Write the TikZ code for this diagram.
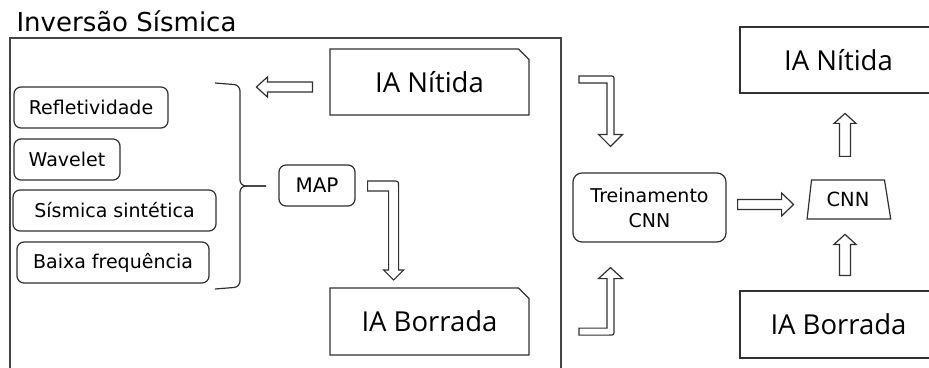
\documentclass[tikz,border=0pt]{standalone}
\usepackage{fontspec}
\setmainfont{DejaVu Sans}
\newfontfamily\iafont{Open Sans}
\usetikzlibrary{shapes.misc,shapes.geometric,calc}
\definecolor{linegray}{HTML}{303030}
\definecolor{framegray}{HTML}{444444}
\tikzstyle{item}=[draw=linegray, line width=1.2pt, rounded corners=7pt, inner sep=0pt, minimum height=41pt, font=\fontsize{19}{25}\selectfont, align=center]
\tikzstyle{card}=[draw=linegray, line width=1.2pt, chamfered rectangle, chamfered rectangle corners=north east, chamfered rectangle xsep=5.5pt, chamfered rectangle ysep=5pt, inner sep=0pt, font=\iafont\fontsize{27.5}{33}\selectfont]
\tikzstyle{plain}=[draw=linegray, line width=1.2pt, inner sep=0pt, font=\iafont\fontsize{27.5}{33}\selectfont]
\tikzstyle{netbox}=[draw=linegray, line width=1.2pt, trapezium, trapezium left angle=80, trapezium right angle=76, trapezium stretches=true, minimum width=84pt, minimum height=39pt, inner sep=0pt, font=\fontsize{19.5}{24}\selectfont]
\tikzstyle{hollow}=[draw=linegray, line width=1.2pt, fill=white, line join=miter]
\tikzstyle{bracket}=[draw=linegray, line width=1.2pt, rounded corners=6pt]

% tail, angle, length, half shaft, half head, head length
\newcommand{\hollowarrow}[6]{%
  \begin{scope}[shift={#1}, rotate=#2]
    \draw[hollow] (0,-#4) -- ({#3-#6},-#4) -- ({#3-#6},-#5) -- (#3,0)
      -- ({#3-#6},#5) -- ({#3-#6},#4) -- (0,#4) -- cycle;
  \end{scope}}

\begin{document}
\begin{tikzpicture}[x=1pt, y=-1pt]
    \useasboundingbox (0,0) rectangle (929,367);
    \clip (0,0) rectangle (929,367);

    % title and frame of the inversion part
    \node[anchor=base west, font=\fontsize{26}{30}\selectfont] (title) at (13,31) {Inversão Sísmica};
    \draw[framegray, line width=2pt] (10,38) rectangle (561,395);

    % First the input boxes
    \foreach \name/\pos/\boxw/\txt in {refl/{(91,107.5)}/154/Refletividade, wave/{(67,159.5)}/106/Wavelet,
        sint/{(114.5,210.5)}/203/{Sísmica sintética}, baixa/{(113,262.5)}/192/{Baixa frequência}}
        \node[item, minimum width=\boxw pt] (\name) at \pos {\txt};

    % the bracket that gathers them
    \coordinate (tip) at (266,186);
    \path[bracket] (215,83) -- (240,85) -- (240,186) -- (tip);
    \path[bracket] (tip) -- (240,186) -- (240,287) -- (215,289);

    \node[item, minimum width=76pt, font=\fontsize{20}{24}\selectfont] (map) at (317,185.5) {MAP};
    \node[card, minimum width=199pt, minimum height=66pt] (nitidaA) at (429.5,82) {IA Nítida};
    \node[card, minimum width=199pt, minimum height=67pt] (borradaA) at (429.5,321.5) {IA Borrada};

    % training and network
    \node[item, minimum width=153pt, minimum height=69pt, rounded corners=9pt] (trein) at (649.5,207.5) {Treinamento\\CNN};
    \node[netbox] (cnn) at (848,199.5) {CNN};
    \node[plain, minimum width=197pt, minimum height=66pt] (nitidaB) at (838.5,60) {IA Nítida};
    \node[plain, minimum width=197pt, minimum height=67pt] (borradaB) at (838.5,324.5) {IA Borrada};

    % Straight block arrows
    \hollowarrow{($(nitidaA.west)+(-17,5)$)}{180}{56}{5}{10}{11}
    \hollowarrow{($(trein.east)+(11,-3)$)}{0}{56}{5}{11.5}{12}
    \hollowarrow{($(borradaB.north)+(6.5,-15)$)}{90}{41}{5.5}{11}{10}
    \hollowarrow{($(cnn.north)+(-3,-23)$)}{90}{43}{5.5}{11}{10}

    % Bent block arrows
    \draw[hollow] ($(map.east)+(12,-4.5)$) -- ++(25,0) .. controls +(6,0) .. ++(6,6) -- ++(0,83)
        -- ++(5,0) -- ++(-10,10) -- ++(-10,-10) -- ++(5,0) -- ++(0,-79) -- ++(-21,0) -- cycle;
    \draw[hollow] ($(trein.north)+(-70.5,-96.5)$) -- ++(30,0) .. controls +(5,0) .. ++(5,5) -- ++(0,53.5)
        -- ++(8.5,0) -- ++(-12,12) -- ++(-12,-12) -- ++(8.5,0) -- ++(0,-51.5) -- ++(-28,0) -- cycle;
    \draw[hollow] ($(trein.south)+(-70.5,92.5)$) -- ++(30,0) .. controls +(5,0) .. ++(5,-5) -- ++(0,-51.5)
        -- ++(8.5,0) -- ++(-12,-11) -- ++(-12,11) -- ++(8.5,0) -- ++(0,49.5) -- ++(-28,0) -- cycle;
\end{tikzpicture}
\end{document}
